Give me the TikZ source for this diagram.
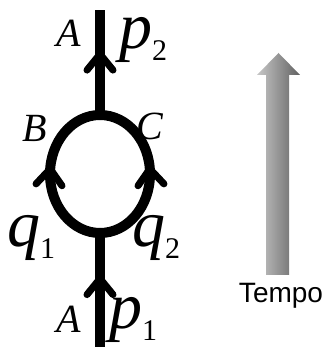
\documentclass[tikz,border=0pt]{standalone}
\usepackage{fontspec}
\setmainfont{Liberation Serif}
\setsansfont{Liberation Sans}
\usetikzlibrary{decorations.markings}

\newcommand{\mommark}[2]{{\fontsize{66}{66}\selectfont\itshape #1}\raisebox{-12pt}{\fontsize{30}{30}\selectfont #2}}

\begin{document}
\begin{tikzpicture}[x=1pt, y=1pt,
  prop/.style={line width=10pt},
  chev/.style={postaction={decorate}, decoration={markings,
    mark=at position #1 with {\draw[line width=7pt, line cap=round, line join=miter]
      (-16pt,13pt) -- (0pt,0pt) -- (-16pt,-13pt);}}},
  caplbl/.style={inner sep=0pt, anchor=base west, font=\fontsize{40}{40}\selectfont\itshape},
  momlbl/.style={inner sep=0pt, anchor=base west}
]
\useasboundingbox (0,0) rectangle (322,347);

% ends and vertices
\coordinate (pin) at (100,0);
\coordinate (vin) at (100,114);
\coordinate (vout) at (100,232);
\coordinate (pout) at (100,337);

% lines of the loop
\draw[prop, chev=0.6] (pin) -- (vin);
\draw[prop, chev=0.58] (vout) -- (pout);
\draw[prop, chev=0.53] (vin) arc[start angle=270, end angle=90, x radius=50, y radius=59];
\draw[prop, chev=0.53] (vin) arc[start angle=-90, end angle=90, x radius=50, y radius=59];

% labels
\node[caplbl] (aout) at (56,300) {A};
\node[momlbl] (ptwo) at (119,298) {\mommark{p}{2}};
\node[caplbl] (bleft) at (22,205) {B};
\node[caplbl] (cright) at (136,207) {C};
\node[momlbl] (qone) at (7,100) {\mommark{q}{1}};
\node[momlbl] (qtwo) at (132,100) {\mommark{q}{2}};
\node[caplbl] (ain) at (56,14) {A};
\node[momlbl] (pone) at (109,18) {\mommark{p}{1}};

% time arrow
\node[font=\sffamily\fontsize{28}{28}\selectfont, anchor=base, inner sep=0pt] (tempo) at (281,44) {Tempo};
\shade[left color=black!22, right color=black!62]
  (266,72) -- (266,272) -- (257,272) -- (278.5,294) -- (300,272) -- (289,272) -- (289,72) -- cycle;

\end{tikzpicture}
\end{document}
